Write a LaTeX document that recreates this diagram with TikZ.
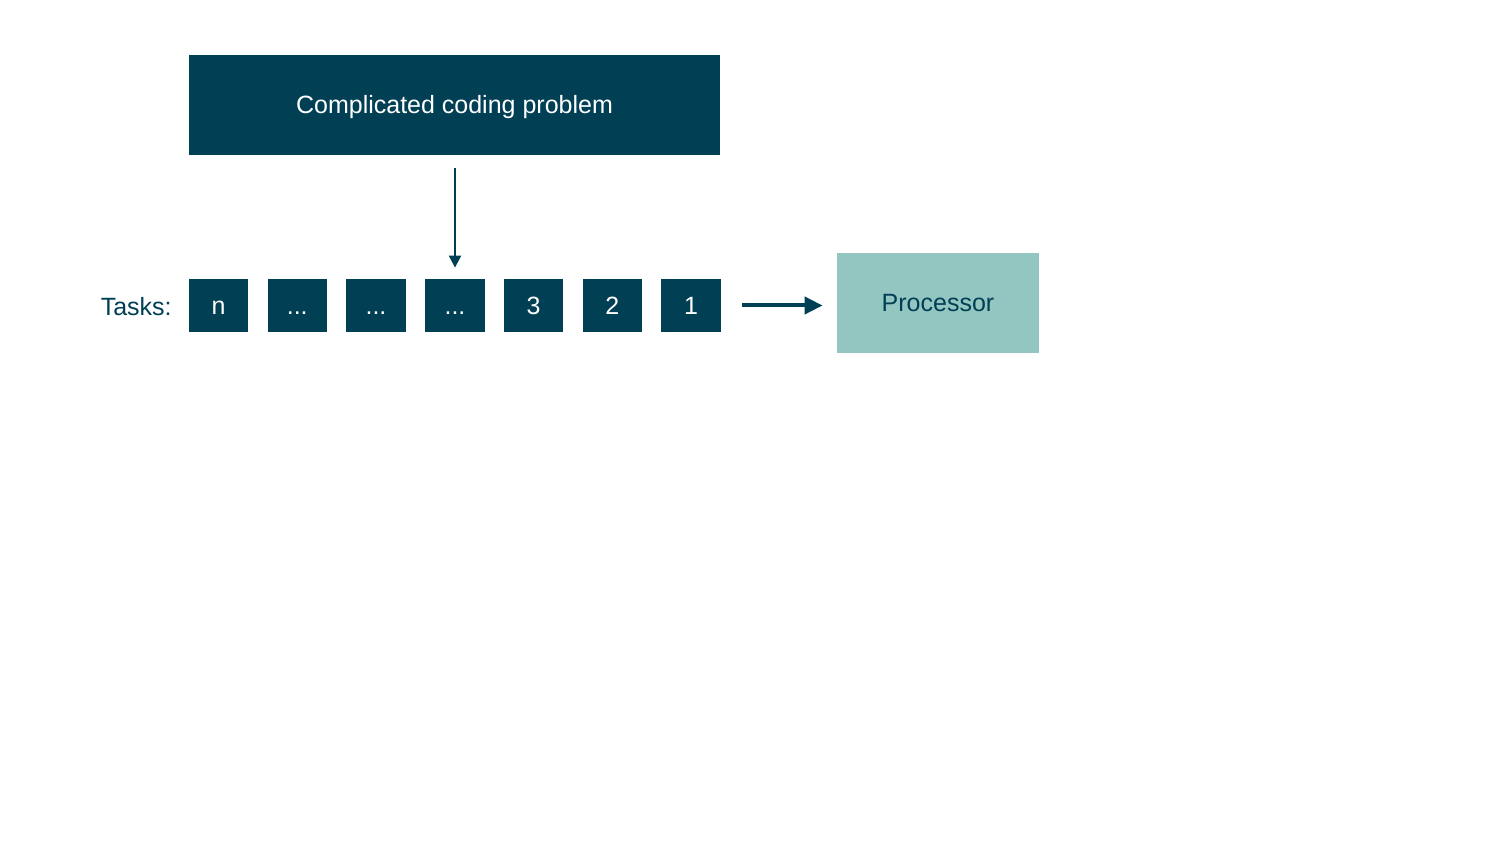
\documentclass[tikz,border=0pt]{standalone}
\usepackage{fontspec}
\setmainfont{Liberation Sans}
\usetikzlibrary{arrows.meta}
\definecolor{darkteal}{RGB}{0,63,84}
\definecolor{lightteal}{RGB}{147,197,193}
\begin{document}
\begin{tikzpicture}[x=0.5pt,y=-0.5pt,
  every node/.style={font=\fontsize{12.5}{15}\selectfont, inner sep=0pt},
  boxtext/.style={text height=9pt, text depth=0pt},
  bigbox/.style={boxtext, fill=darkteal, text=white, minimum width=265.5pt, minimum height=50pt},
  taskbox/.style={boxtext, fill=darkteal, text=white, minimum width=29.75pt, minimum height=26.5pt},
  procbox/.style={boxtext, fill=lightteal, text=darkteal, minimum width=101pt, minimum height=50pt},
  thinarrow/.style={draw=darkteal, line width=1pt, -{Triangle[width=6pt,length=6pt]}},
  thickarrow/.style={draw=darkteal, line width=2pt, -{Triangle[width=8.5pt,length=9pt]}}]
\useasboundingbox (0,0) rectangle (1500,844);
\node[bigbox] (big) at (454.5,105) {Complicated coding problem};
\node[taskbox] (t1) at (218.5,305.5) {n};
\node[taskbox] (t2) at (297.25,305.5) {...};
\node[taskbox] (t3) at (376,305.5) {...};
\node[taskbox] (t4) at (455,305.5) {...};
\node[taskbox] (t5) at (533.5,305.5) {3};
\node[taskbox] (t6) at (612.25,305.5) {2};
\node[taskbox] (t7) at (691,305.5) {1};
\node[anchor=east, text=darkteal] (tasks) at (172,307) {Tasks:};
\node[procbox] (proc) at (938,303) {Processor};
\draw[thinarrow, shorten <=6.5pt, shorten >=5.5pt] (big.south -| t4.north) -- (t4.north);
\draw[thickarrow, shorten <=10.5pt, shorten >=7pt] (t7.east) -- (proc.west |- t7.east);
\end{tikzpicture}
\end{document}
